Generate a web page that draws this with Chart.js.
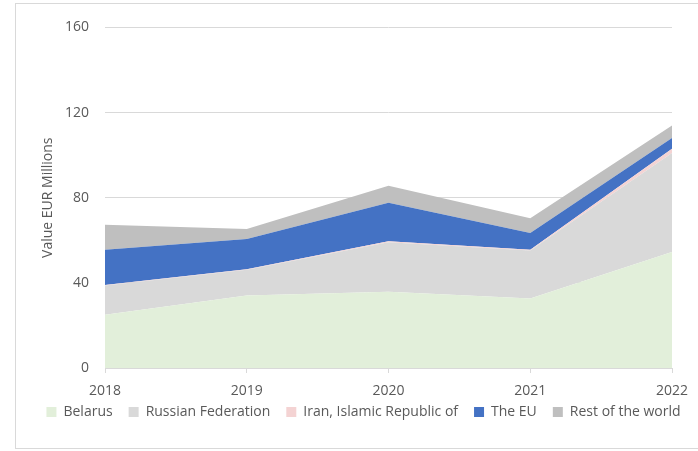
<!DOCTYPE html>
<html>
<head>
<meta charset="utf-8">
<script src="https://cdn.jsdelivr.net/npm/chart.js@4"></script>
<style>
  html, body { margin: 0; padding: 0; background: #ffffff; }
  body { width: 698px; height: 451px; position: relative; overflow: hidden; }
  #frame { position: absolute; left: 15px; top: 3px; width: 700px; height: 446px;
           border: 1px solid #d9d9d9; border-right: none; box-sizing: border-box; }
  #wrap { position: absolute; left: 15px; top: 3px; width: 683px; height: 446px; }
</style>
</head>
<body>
<div id="frame"></div>
<div id="wrap"><canvas id="c" width="683" height="446"></canvas></div>
<script>
// Import values by origin, EUR millions
const years = ['2018', '2019', '2020', '2021', '2022'];
const belarus = [25, 34, 35.8, 32.7, 54.5];
const russia = [13.7, 12.2, 23.3, 22.5, 46.5];
const iran = [0.3, 0.2, 0.5, 0.4, 2];
const theEU = [16.5, 14.2, 18, 7.8, 5];
const restOfWorld = [11.8, 4.7, 8, 7, 5.9];
const yTicks = [0, 40, 80, 120, 160];

const FONT = "'Open Sans', 'Liberation Sans', sans-serif";
const TEXT = '#595959';

function area(label, data, color, fill) {
  return {
    label, data, fill,
    backgroundColor: color,
    borderColor: color,
    borderWidth: 0,
    pointRadius: 0,
    pointHoverRadius: 0,
    tension: 0
  };
}

// Pull the legend row a little closer to the year labels
const legendLift = {
  id: 'legendLift',
  afterLayout(chart) {
    const lg = chart.legend;
    if (lg) { lg.top -= 9; lg.bottom -= 9; }
  }
};

new Chart(document.getElementById('c'), {
  type: 'line',
  data: {
    labels: years,
    datasets: [
      area('Belarus', belarus, '#e2efda', 'origin'),
      area('Russian Federation', russia, '#d9d9d9', '-1'),
      area('Iran, Islamic Republic of', iran, '#f4d3d3', '-1'),
      area('The EU', theEU, '#4472c4', '-1'),
      area('Rest of the world', restOfWorld, '#bfbfbf', '-1')
    ]
  },
  plugins: [legendLift],
  options: {
    responsive: false,
    animation: false,
    events: [],
    layout: { padding: { left: 14, right: 0, top: 17, bottom: 11 } },
    plugins: {
      tooltip: { enabled: false },
      legend: {
        position: 'bottom',
        align: 'center',
        labels: {
          color: TEXT,
          font: { family: FONT, size: 14 },
          boxWidth: 10,
          boxHeight: 10,
          padding: 16
        }
      }
    },
    scales: {
      x: {
        offset: false,
        grid: { drawOnChartArea: false, drawTicks: true, tickLength: 5, color: '#d9d9d9' },
        border: { display: true, color: '#d9d9d9' },
        ticks: { color: TEXT, font: { family: FONT, size: 14 }, padding: 10, maxRotation: 0 },
        afterFit: s => { s.height = 30; s.paddingRight = 26; s.paddingLeft = 0; }
      },
      y: {
        stacked: true,
        min: 0,
        max: 160,
        afterBuildTicks: s => { s.ticks = yTicks.map(v => ({ value: v })); },
        grid: { color: '#d9d9d9', drawTicks: false },
        border: { display: false },
        ticks: { color: TEXT, font: { family: FONT, size: 14 }, padding: 16 },
        title: {
          display: true,
          text: 'Value EUR Millions',
          color: TEXT,
          font: { family: FONT, size: 14 },
          padding: { top: 11, bottom: 0 }
        },
        afterFit: s => { s.width = 76; }
      }
    }
  }
});
</script>
</body>
</html>
